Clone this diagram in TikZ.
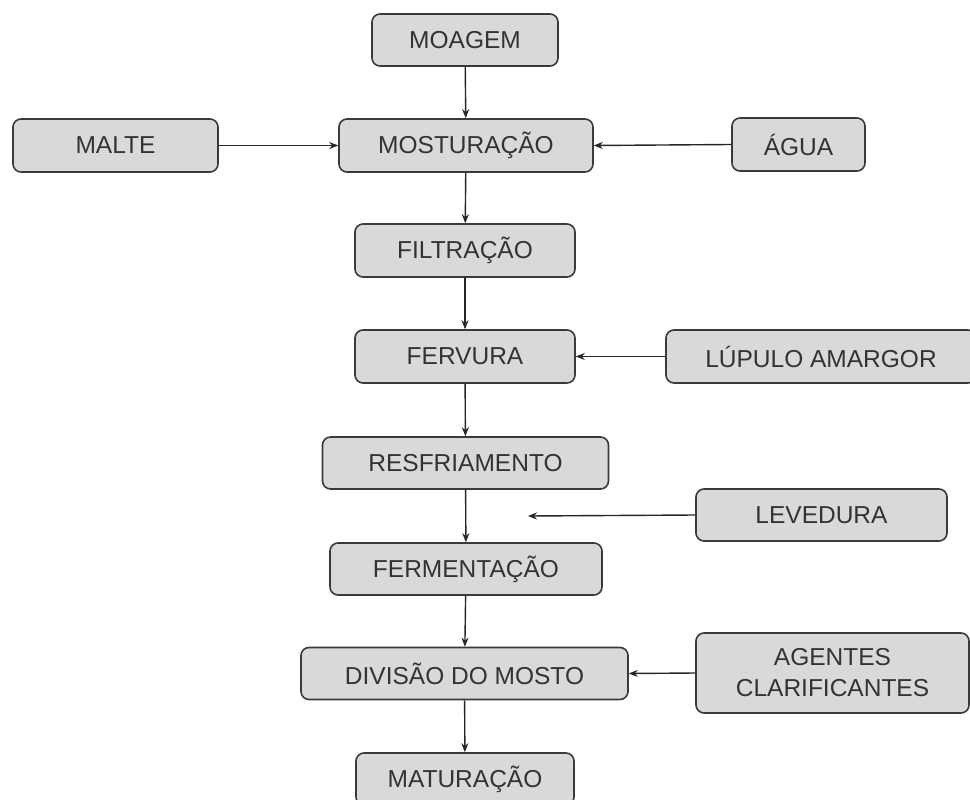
\documentclass[tikz,border=0pt]{standalone}
\usepackage{fontspec}
\setmainfont{Liberation Sans}
\usetikzlibrary{arrows.meta}
\definecolor{boxfill}{HTML}{D9D9D9}
\definecolor{boxline}{HTML}{3A3A3A}
\begin{document}
\begin{tikzpicture}[x=1pt,y=-1pt,
  box/.style={draw=boxline, fill=boxfill, line width=1.6pt, rounded corners=8pt,
    inner sep=0pt, font=\fontsize{24.5}{31}\selectfont, text=black!80, align=center},
  flow/.style={line width=1.4pt, draw=black!85, -{Stealth[length=9pt,width=7pt]}}]
\useasboundingbox (0,0) rectangle (970,800);
\clip (0,0) rectangle (970,800);
\fill[white] (0,0) rectangle (970,800);
\node[box, minimum width=186pt, minimum height=52pt] (moagem) at (465,40) {MOAGEM};
\node[box, minimum width=205pt, minimum height=53pt] (malte) at (115.5,145.5) {MALTE};
\node[box, minimum width=254pt, minimum height=53pt] (most) at (466,145.5) {MOSTURAÇÃO};
\node[box, minimum width=133pt, minimum height=53pt] (agua) at (798.5,144.5) {ÁGUA};
\node[box, minimum width=220pt, minimum height=53pt] (filt) at (465,250.5) {FILTRAÇÃO};
\node[box, minimum width=220pt, minimum height=53pt] (ferv) at (465,356.5) {FERVURA};
\node[box, minimum width=310pt, minimum height=53pt] (lupulo) at (821,356.5) {LÚPULO AMARGOR};
\node[box, minimum width=286pt, minimum height=52pt] (resf) at (465.5,463) {RESFRIAMENTO};
\node[box, minimum width=251pt, minimum height=52pt] (lev) at (821.5,515) {LEVEDURA};
\node[box, minimum width=272pt, minimum height=52pt] (ferm) at (466,569) {FERMENTAÇÃO};
\node[box, minimum width=327pt, minimum height=52pt] (div) at (464.5,673.5) {DIVISÃO DO MOSTO};
\node[box, minimum width=273pt, minimum height=80pt] (agentes) at (832.5,673) {AGENTES\\CLARIFICANTES};
\node[box, minimum width=218pt, minimum height=52pt] (mat) at (465,779) {MATURAÇÃO};
\coordinate (levend) at (528,516);
\draw[flow] (moagem) -- (most);
\draw[flow] (malte.east) -- (most.west);
\draw[flow] (agua.west) -- (most.east);
\draw[flow] (most) -- (filt);
\draw[flow] (filt) -- (ferv);
\draw[flow] (lupulo.west) -- (ferv.east);
\draw[flow] (ferv) -- (resf);
\draw[flow] (resf) -- (ferm);
\draw[flow] (lev.west) -- (levend);
\draw[flow] (ferm) -- (div);
\draw[flow] (agentes.west) -- (div.east);
\draw[flow] (div) -- (mat);
\end{tikzpicture}
\end{document}
